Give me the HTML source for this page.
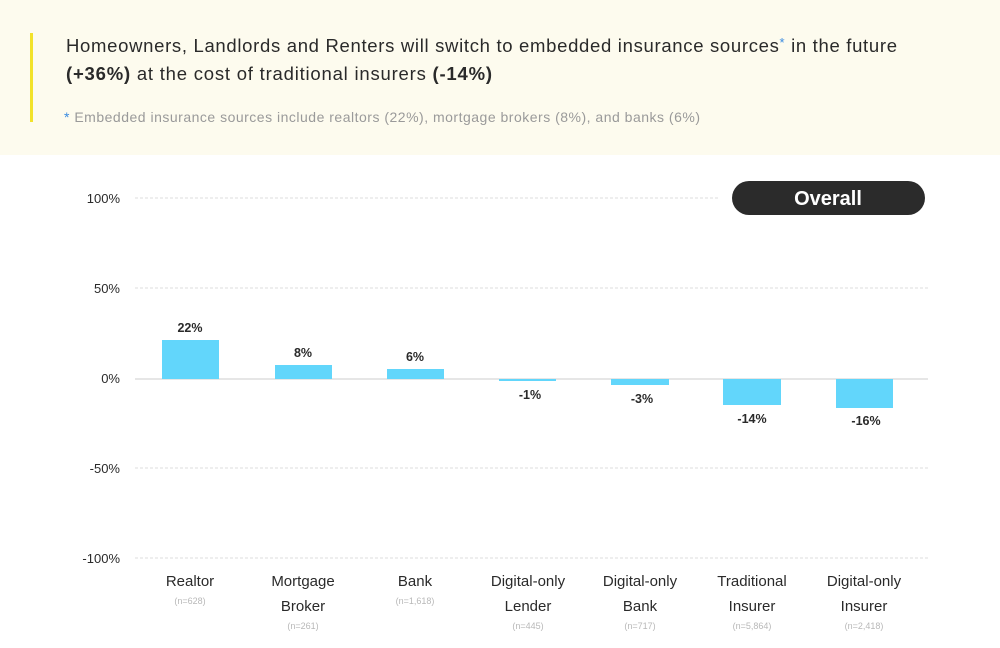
<!DOCTYPE html>
<html><head><meta charset="utf-8"><style>
html,body{margin:0;padding:0;background:#fff;}
body{width:1000px;height:648px;overflow:hidden;position:relative;font-family:"Liberation Sans",sans-serif;}
</style></head><body>
<svg width="1000" height="648" xmlns="http://www.w3.org/2000/svg" style="position:absolute;left:0;top:0">
<rect x="0" y="0" width="1000" height="155" fill="#fdfbee"/>
<rect x="30" y="33" width="3" height="89" fill="#f2e22a"/>
<g font-family="Liberation Sans, sans-serif" fill="#2a2a2a">
<text x="66" y="52" font-size="18.5" textLength="831" lengthAdjust="spacing">Homeowners, Landlords and Renters will switch to embedded insurance sources<tspan fill="#3a8be0" font-size="13" dy="-5">*</tspan><tspan dy="5"> in the future</tspan></text>
<text x="66" y="80" font-size="18.5" textLength="426" lengthAdjust="spacing"><tspan font-weight="bold">(+36%)</tspan> at the cost of traditional insurers <tspan font-weight="bold">(-14%)</tspan></text>
<text x="64" y="122" font-size="14" fill="#9a9a9a" textLength="636" lengthAdjust="spacing"><tspan fill="#3a8be0">*</tspan> Embedded insurance sources include realtors (22%), mortgage brokers (8%), and banks (6%)</text>
</g>
<g stroke="#dcdcdc" stroke-width="1" stroke-dasharray="3,2">
<line x1="135" y1="198" x2="720" y2="198"/>
<line x1="135" y1="288" x2="928" y2="288"/>
<line x1="135" y1="468" x2="928" y2="468"/>
<line x1="135" y1="558" x2="928" y2="558"/>
</g>
<line x1="135" y1="379" x2="928" y2="379" stroke="#dedede" stroke-width="1.5"/>
<g font-family="Liberation Sans, sans-serif" font-size="13" fill="#2a2a2a" text-anchor="end">
<text x="120" y="203">100%</text>
<text x="120" y="293">50%</text>
<text x="120" y="383">0%</text>
<text x="120" y="473">-50%</text>
<text x="120" y="563">-100%</text>
</g>
<rect x="732" y="181" width="193" height="34" rx="17" fill="#2b2b2b"/>
<text x="828" y="205" text-anchor="middle" font-family="Liberation Sans, sans-serif" font-size="20" font-weight="bold" fill="#fff">Overall</text>
<g fill="#62d6fb">
<rect x="162" y="340" width="57" height="39"/>
<rect x="275" y="365" width="57" height="14"/>
<rect x="387" y="369" width="57" height="10"/>
<rect x="499" y="379" width="57" height="2"/>
<rect x="611" y="379" width="58" height="6"/>
<rect x="723" y="379" width="58" height="26"/>
<rect x="836" y="379" width="57" height="29"/>
</g>
<g font-family="Liberation Sans, sans-serif" font-size="12.5" font-weight="bold" fill="#2a2a2a" text-anchor="middle">
<text x="190" y="332">22%</text>
<text x="303" y="357">8%</text>
<text x="415" y="361">6%</text>
<text x="530" y="399">-1%</text>
<text x="642" y="403">-3%</text>
<text x="752" y="423">-14%</text>
<text x="866" y="425">-16%</text>
</g>
<g font-family="Liberation Sans, sans-serif" font-size="15" fill="#2a2a2a" text-anchor="middle">
<text x="190" y="586">Realtor</text>
<text x="303" y="586">Mortgage</text><text x="303" y="611">Broker</text>
<text x="415" y="586">Bank</text>
<text x="528" y="586">Digital-only</text><text x="528" y="611">Lender</text>
<text x="640" y="586">Digital-only</text><text x="640" y="611">Bank</text>
<text x="752" y="586">Traditional</text><text x="752" y="611">Insurer</text>
<text x="864" y="586">Digital-only</text><text x="864" y="611">Insurer</text>
</g>
<g font-family="Liberation Sans, sans-serif" font-size="9" fill="#b8b8b8" text-anchor="middle">
<text x="190" y="604">(n=628)</text>
<text x="303" y="629">(n=261)</text>
<text x="415" y="604">(n=1,618)</text>
<text x="528" y="629">(n=445)</text>
<text x="640" y="629">(n=717)</text>
<text x="752" y="629">(n=5,864)</text>
<text x="864" y="629">(n=2,418)</text>
</g>
</svg>
</body></html>
